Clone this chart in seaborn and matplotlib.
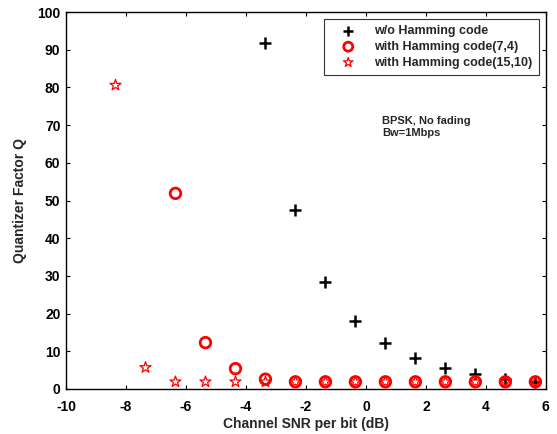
import matplotlib
matplotlib.use("Agg")
import matplotlib.pyplot as plt
import seaborn as sns
import pandas as pd

snr_plus = [-3.35, -2.35, -1.35, -0.35, 0.65, 1.65, 2.65, 3.65, 4.65, 5.65]
q_plus = [91.8, 47.6, 28.3, 18.0, 12.2, 8.2, 5.6, 3.9, 2.7, 1.9]

snr_74 = [-6.35, -5.35, -4.35, -3.35, -2.35, -1.35, -0.35, 0.65, 1.65, 2.65, 3.65, 4.65, 5.65]
q_74 = [51.9, 12.3, 5.4, 2.6, 1.9, 1.9, 1.9, 1.9, 1.9, 1.9, 1.9, 1.9, 1.9]

snr_1510 = [-8.35, -7.35, -6.35, -5.35, -4.35, -3.35, -2.35, -1.35, -0.35, 0.65, 1.65, 2.65, 3.65, 4.65, 5.65]
q_1510 = [80.6, 5.7, 1.9, 1.9, 1.9, 1.9, 1.9, 1.9, 1.9, 1.9, 1.9, 1.9, 1.9, 1.9, 1.9]

labels = ["w/o Hamming code", "with Hamming code(7,4)", "with Hamming code(15,10)"]

sns.set_theme(style="ticks")
plt.rcParams["font.family"] = ["Liberation Sans", "DejaVu Sans"]
plt.rcParams["font.weight"] = "bold"
plt.rcParams["axes.unicode_minus"] = False

fig = plt.figure(figsize=(5.57, 4.34), dpi=100)
ax = fig.add_axes([0.1185, 0.1037, 0.8615, 0.8685])

df_p = pd.DataFrame({"x": snr_plus, "y": q_plus})
df_a = pd.DataFrame({"x": snr_74, "y": q_74})
df_b = pd.DataFrame({"x": snr_1510, "y": q_1510})

sns.scatterplot(data=df_p, x="x", y="y", marker="+", s=75, color="black",
                linewidth=1.8, ax=ax, label=labels[0], zorder=3)
sns.scatterplot(data=df_a, x="x", y="y", marker="o", s=58, facecolors="none",
                edgecolor="red", linewidth=2.0, ax=ax, label=labels[1], zorder=3)
sns.scatterplot(data=df_b, x="x", y="y", marker="*", s=70, facecolors="none",
                edgecolor="red", linewidth=0.9, ax=ax, label=labels[2], zorder=3)

ax.set_xlim(-10, 6)
ax.set_ylim(0, 100)
ax.set_xticks(range(-10, 7, 2))
ax.set_yticks(range(0, 101, 10))
ax.tick_params(direction="in", length=3, width=0.8, top=True, right=True,
               labelsize=10, colors="black")
ax.tick_params(axis="x", pad=8)
ax.tick_params(axis="y", pad=4)
for lab in ax.get_xticklabels() + ax.get_yticklabels():
    lab.set_fontweight("bold")
for sp in ax.spines.values():
    sp.set_visible(True)
    sp.set_color("black")
    sp.set_linewidth(1.0)

ax.set_xlabel("Channel SNR per bit (dB)", fontsize=10, fontweight="bold", labelpad=2)
ax.set_ylabel("Quantizer Factor Q", fontsize=10, fontweight="bold", labelpad=7)

leg = ax.legend(loc="upper right", fontsize=9, frameon=True, fancybox=False,
                edgecolor="black", borderpad=0.5, labelspacing=0.3,
                handlelength=2.8, handletextpad=0.7, borderaxespad=0.55,
                markerscale=0.85)
leg.get_frame().set_linewidth(0.8)
for t in leg.get_texts():
    t.set_fontweight("bold")

ax.text(0.53, 69.5, "BPSK, No fading\nBw=1Mbps", fontsize=8, fontweight="bold",
        va="center", ha="left", linespacing=1.25)

fig.savefig("out.png", dpi=100)
